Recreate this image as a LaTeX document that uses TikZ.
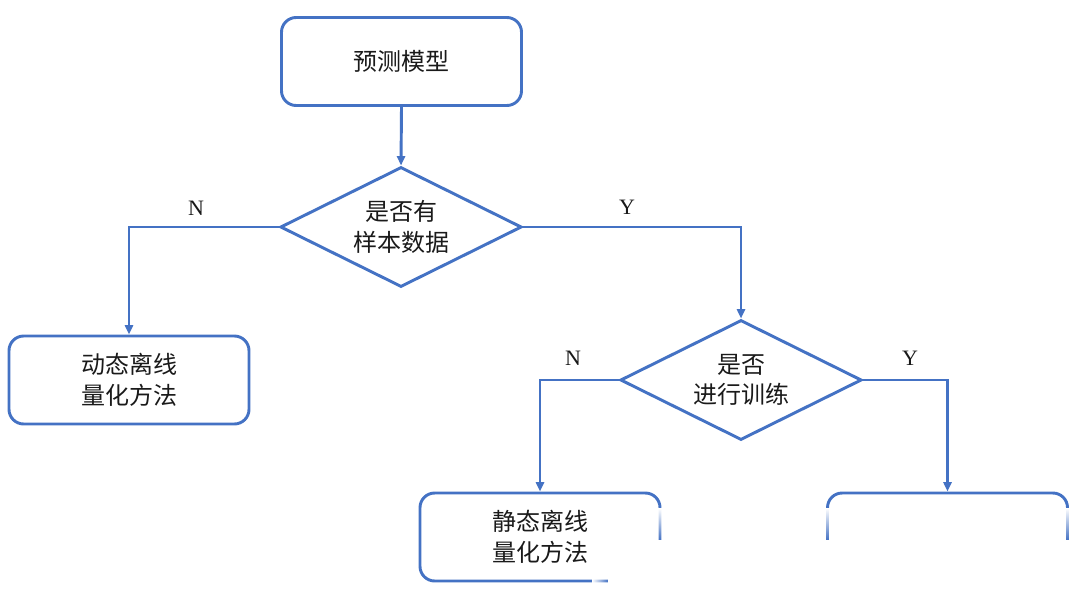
\documentclass[tikz,border=0pt]{standalone}
\usepackage{fontspec}
\setmainfont{Liberation Serif}
\newfontfamily\cjk{Noto Sans CJK SC}
\usetikzlibrary{shapes.geometric,arrows.meta,fadings}
\definecolor{lineblue}{HTML}{4472C4}
\definecolor{txt}{HTML}{1A1A1A}
\begin{document}
\begin{tikzpicture}[x=0.75pt,y=-0.75pt,
  every node/.style={text=txt},
  box/.style={draw=lineblue,line width=2.2pt,rounded corners=11pt,minimum width=180pt,minimum height=66pt,inner sep=0pt,align=center,font=\cjk\fontsize{18}{23}\selectfont},
  dia/.style={draw=lineblue,line width=2.2pt,diamond,shape aspect=2,minimum width=181pt,minimum height=90pt,inner sep=0pt,align=center,font=\cjk\fontsize{18}{23}\selectfont},
  conn/.style={draw=lineblue,line width=2.2pt,-{Triangle[length=7pt,width=6pt]}},
  lab/.style={font=\fontsize{16.5}{19}\selectfont}]
\useasboundingbox (0,0) rectangle (1080,604);
\fill[white] (0,0) rectangle (1080,604);
\node[box] (top) at (401.5,61.5) {预测模型};
\node[dia] (d1) at (401,227) {是否有\\样本数据};
\node[box] (left) at (129,380) {动态离线\\量化方法};
\node[dia] (d2) at (741,380) {是否\\进行训练};
\node[box] (mid) at (540,537) {静态离线\\量化方法};
\node[box] (right) at (947.5,537) {};
\draw[conn] (top.south) -- (d1.north);
\draw[conn] (d1.west) -| (left.north);
\draw[conn] (d1.east) -| (d2.north);
\draw[conn] (d2.west) -| (mid.north);
\draw[conn] (d2.east) -| (right.north);
\node[lab] (n1) at (196,208) {N};
\node[lab] (y1) at (627,207) {Y};
\node[lab] (n2) at (573,358) {N};
\node[lab] (y2) at (910,358) {Y};
% white fade over the bottom right corner
\fill[white,path fading=south] (608,508) rectangle (1080,540);
\fill[white] (608,540) rectangle (1080,604);
\fill[white,path fading=east] (592,540) rectangle (608,604);
\end{tikzpicture}
\end{document}
